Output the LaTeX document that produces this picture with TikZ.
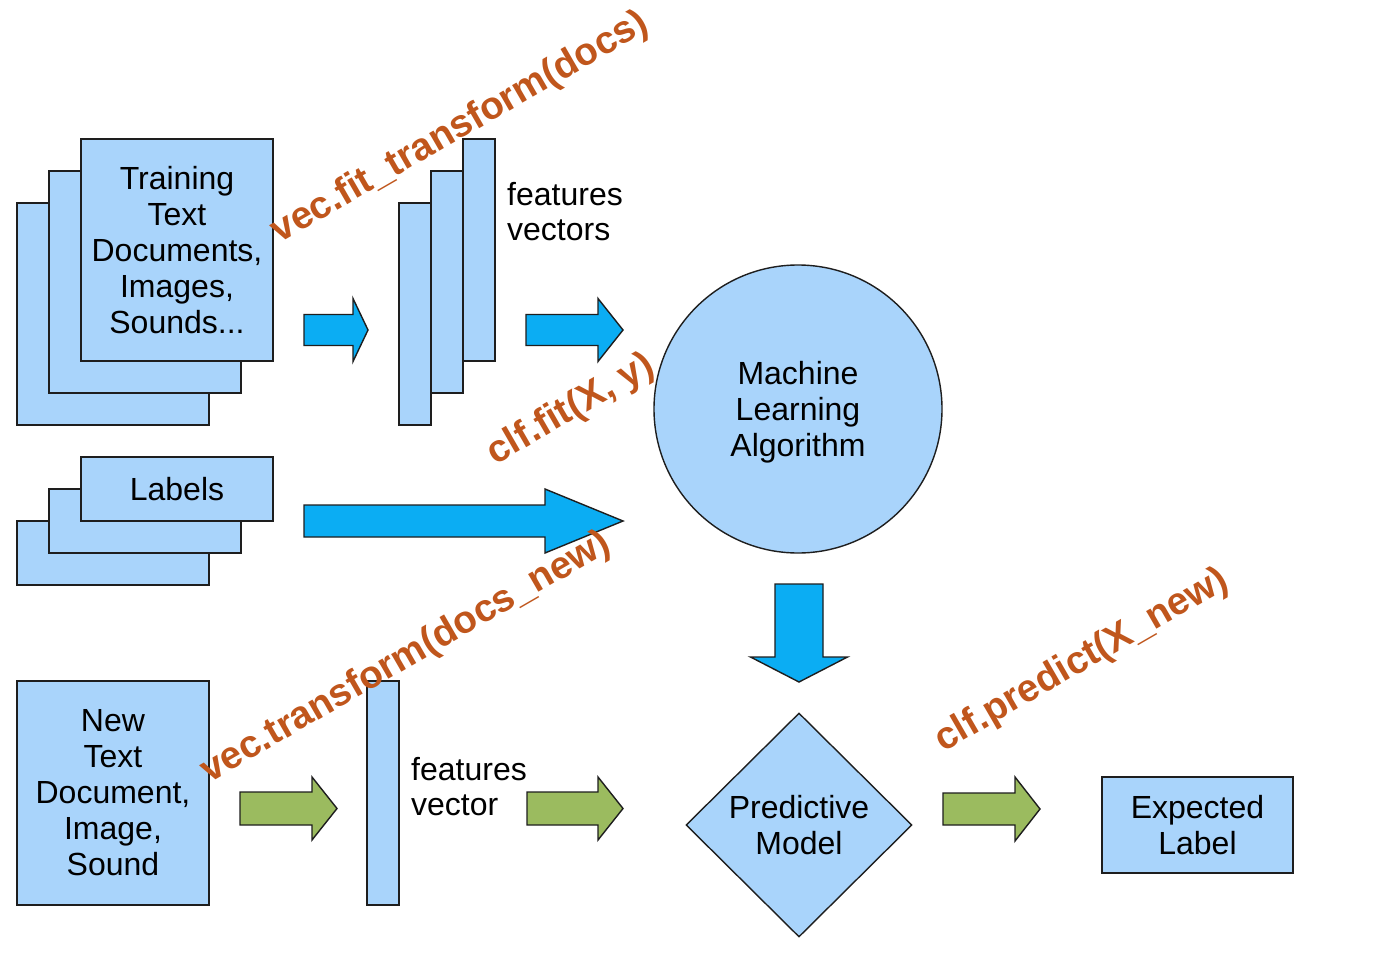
\documentclass[tikz,border=0pt]{standalone}
\usepackage{fontspec}
\setmainfont{Liberation Sans}
\usetikzlibrary{shapes.geometric}
\definecolor{boxblue}{HTML}{A9D4FB}
\definecolor{arrblue}{HTML}{0BADF3}
\definecolor{arrgreen}{HTML}{9BBB5F}
\definecolor{codeorange}{HTML}{C0561C}
\definecolor{edgecol}{HTML}{1E1E1E}
\tikzset{
  box/.style={draw=edgecol, fill=boxblue, line width=1.4pt, inner sep=0pt, align=center,
    font=\fontsize{32}{36}\selectfont, text=black},
  txt/.style={font=\fontsize{32}{36}\selectfont, align=center, inner sep=0pt, text=black},
  plain/.style={font=\fontsize{32}{35}\selectfont, align=left, inner sep=0pt, anchor=west, text=black},
  code/.style={text=codeorange, font=\bfseries\fontsize{38.5}{42}\selectfont, inner sep=0pt, rotate=30},
  blockarrow/.style={draw=edgecol, line width=1.4pt, line join=miter},
}
% right block arrow: fill, x start, x head start, x tip, y centre, shaft half, head half
\newcommand{\blockR}[7]{\draw[blockarrow, fill=#1] (#2,#5-#6) -- (#3,#5-#6) -- (#3,#5-#7) -- (#4,#5) -- (#3,#5+#7) -- (#3,#5+#6) -- (#2,#5+#6) -- cycle;}
% down block arrow: fill, x centre, y start, y head start, y tip, shaft half, head half
\newcommand{\blockD}[7]{\draw[blockarrow, fill=#1] (#2-#6,#3) -- (#2+#6,#3) -- (#2+#6,#4) -- (#2+#7,#4) -- (#2,#5) -- (#2-#7,#4) -- (#2-#6,#4) -- cycle;}
\begin{document}
\begin{tikzpicture}[x=1pt,y=-1pt]
\useasboundingbox[fill=white] (0,0) rectangle (1400,958);

% training documents stack
\node[box, minimum width=192pt, minimum height=222pt] (tr3) at (113,314) {};
\node[box, minimum width=192pt, minimum height=222pt] (tr2) at (145,282) {};
\node[box, minimum width=192pt, minimum height=222pt] (tr1) at (177,250) {Training\\Text\\Documents,\\Images,\\Sounds...};

% labels stack
\node[box, minimum width=192pt, minimum height=64pt] (lb3) at (113,553) {};
\node[box, minimum width=192pt, minimum height=64pt] (lb2) at (145,521) {};
\node[box, minimum width=192pt, minimum height=64pt] (lb1) at (177,489) {Labels};

% feature vectors
\node[box, minimum width=32pt, minimum height=222pt] (fv1) at (415,314) {};
\node[box, minimum width=32pt, minimum height=222pt] (fv2) at (447,282) {};
\node[box, minimum width=32pt, minimum height=222pt] (fv3) at (479,250) {};
\node[plain] (fvtext) at (507,212) {features\\vectors};

% machine learning algorithm
\node[box, circle, minimum size=288pt] (mla) at (798,409) {};
\node[txt] (mlatext) at ([yshift=-3pt]mla.center) {Machine\\Learning\\Algorithm};

% new document
\node[box, minimum width=192pt, minimum height=224pt] (newdoc) at (113,793) {New\\Text\\Document,\\Image,\\Sound};
\node[box, minimum width=32pt, minimum height=224pt] (nfv) at (383,793) {};
\node[plain] (nfvtext) at (411,787) {features\\vector};

% predictive model
\node[box, diamond, aspect=1, minimum width=226pt, minimum height=224pt] (model) at (799,825) {};
\node[txt] (modeltext) at (model.center) {Predictive\\Model};

% expected label
\node[box, minimum width=191pt, minimum height=96pt] (expected) at (1197.5,825) {Expected\\Label};

% block arrows
\blockR{arrblue}{304}{353}{368}{330}{15.5}{31.5}
\blockR{arrblue}{526}{598}{623}{330}{15.5}{31.5}
\blockR{arrblue}{304}{545}{623}{521}{16}{32}
\blockD{arrblue}{799}{584}{657}{682}{24}{48.5}
\blockR{arrgreen}{240}{312}{337}{808.5}{16.5}{31.5}
\blockR{arrgreen}{527}{598}{623}{808.5}{16.5}{31.5}
\blockR{arrgreen}{943}{1015}{1040}{809}{16}{32}

% code labels
\node[code] (c1) at (460,128) {vec.fit\_transform(docs)};
\node[code] (c2) at (571,410) {clf.fit(X, y)};
\node[code] (c3) at (406,658) {vec.transform(docs\_new)};
\node[code] (c4) at (1082,661) {clf.predict(X\_new)};
\end{tikzpicture}
\end{document}
